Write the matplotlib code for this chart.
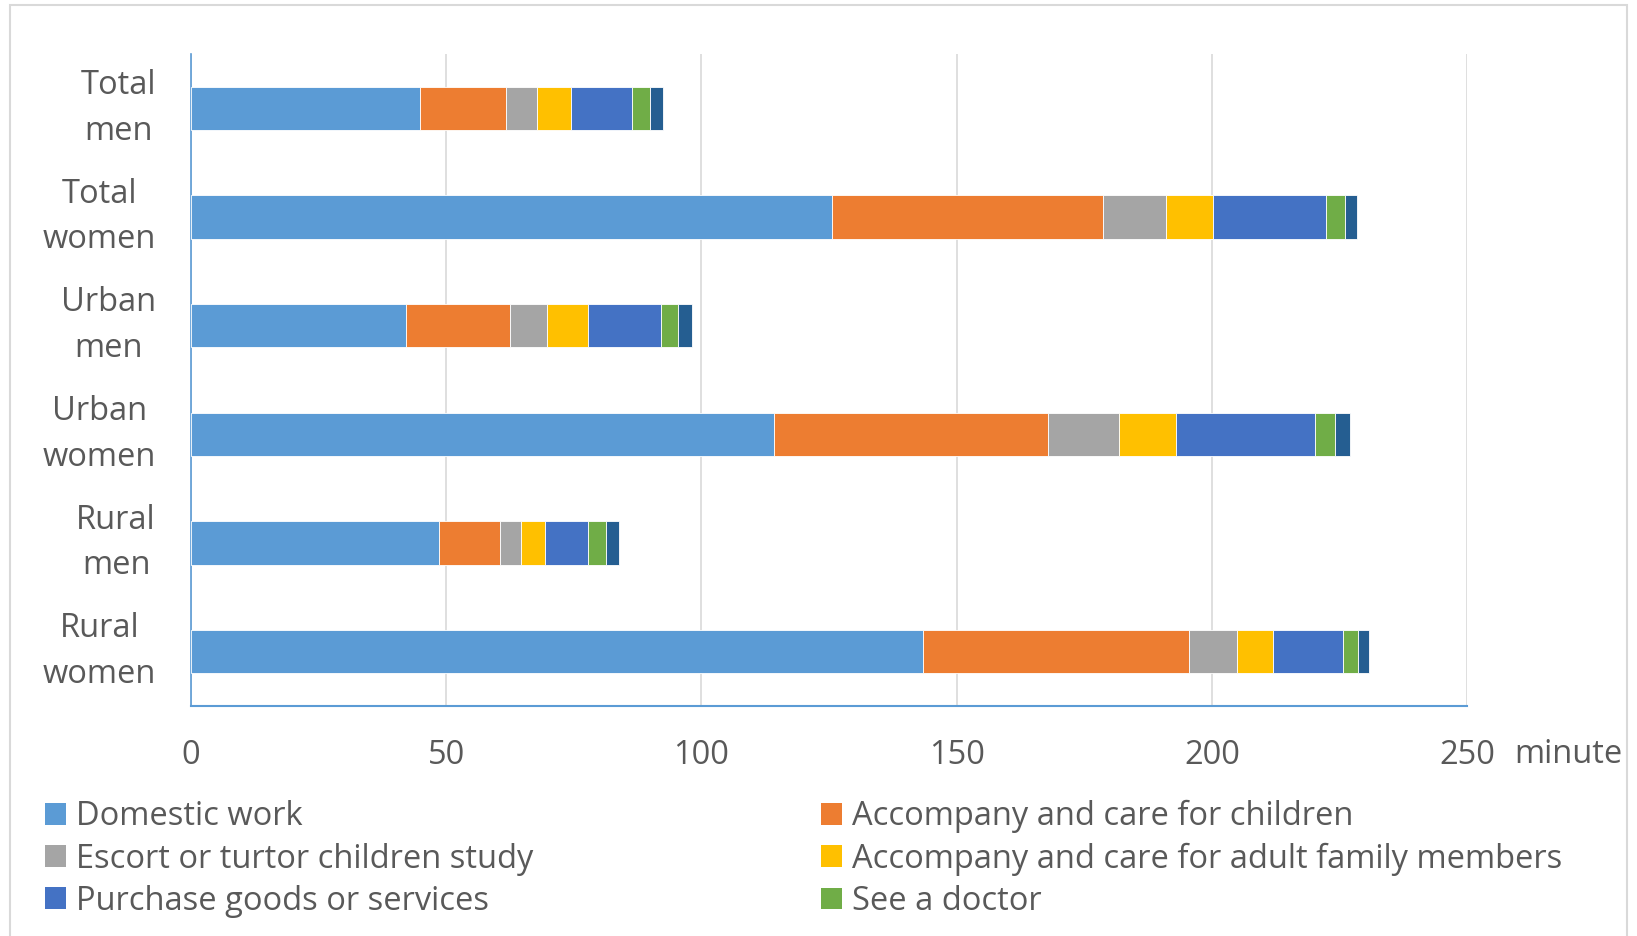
import matplotlib
matplotlib.use('Agg')
import matplotlib.pyplot as plt
import numpy as np
from matplotlib.patches import Rectangle, Patch

plt.rcParams['font.family'] = ['Open Sans', 'DejaVu Sans']

# Categories from top to bottom
groups = ['Total\nmen', 'Total\nwomen', 'Urban\nmen', 'Urban\nwomen', 'Rural\nmen', 'Rural\nwomen']

# Minutes per day for each activity
domestic_work = [44.8, 125.6, 42.2, 114.3, 48.6, 143.5]
care_children = [17.0, 53.0, 20.2, 53.5, 12.0, 52.1]
tutor_children = [5.9, 12.4, 7.3, 14.1, 4.0, 9.4]
care_adults = [6.8, 9.3, 8.0, 11.0, 4.8, 6.9]
purchase = [11.8, 22.0, 14.3, 27.4, 8.3, 13.7]
see_doctor = [3.6, 3.7, 3.5, 3.9, 3.6, 3.1]
other = [2.5, 2.5, 2.6, 2.8, 2.5, 2.1]

series = [
    ('Domestic work', domestic_work, '#5B9BD5'),
    ('Accompany and care for children', care_children, '#ED7D31'),
    ('Escort or turtor children study', tutor_children, '#A5A5A5'),
    ('Accompany and care for adult family members', care_adults, '#FFC000'),
    ('Purchase goods or services', purchase, '#4472C4'),
    ('See a doctor', see_doctor, '#70AD47'),
    ('Other', other, '#255E91'),
]

text_color = '#595959'
fs = 23.5

fig = plt.figure(figsize=(16.37, 9.36), dpi=100)
ax = fig.add_axes([0.1167, 0.2457, 0.7795, 0.6966])

y = np.arange(len(groups))
left = np.zeros(len(groups))
handles = []
for name, vals, color in series:
    ax.barh(y, vals, left=left, height=0.4, color=color,
            edgecolor='white', linewidth=0.6, zorder=3)
    left += np.array(vals)
    if name != 'Other':
        handles.append(Patch(facecolor=color, label=name))

ax.set_xlim(0, 250)
ax.set_ylim(len(groups) - 0.5, -0.5)
ax.set_xticks(np.arange(0, 251, 50))
ax.xaxis.grid(True, color='#D9D9D9', linewidth=1.2, zorder=0)
ax.set_axisbelow(True)

for s in ['top', 'right']:
    ax.spines[s].set_visible(False)
ax.spines['left'].set_color('#5B9BD5')
ax.spines['bottom'].set_color('#5B9BD5')
ax.spines['left'].set_linewidth(1.2)
ax.spines['bottom'].set_linewidth(1.5)

ax.tick_params(axis='x', length=0, pad=24, labelsize=fs, labelcolor=text_color)
ax.tick_params(axis='y', length=0, left=False, labelleft=False)

# y category labels, centred lines, right-aligned block
for yi, label in zip(y, groups):
    ax.text(-0.0275, yi, label, transform=ax.get_yaxis_transform(),
            ha='right', va='center', multialignment='center',
            fontsize=fs, color=text_color, linespacing=1.5)

fig.text(0.925, 0.194, 'minute', ha='left', va='center', fontsize=fs, color=text_color)

order = [0, 2, 4, 1, 3, 5]
fig.legend([handles[i] for i in order], [handles[i].get_label() for i in order],
           ncol=2, loc='upper left', bbox_to_anchor=(0.0195, 0.159),
           frameon=False, fontsize=fs, labelcolor=text_color,
           handlelength=0.65, handleheight=0.65, handletextpad=0.3,
           columnspacing=8.8, labelspacing=0.28, borderaxespad=0)

# light border around the chart area
fig.patches.append(Rectangle((0.0064, -0.01), 0.9875, 1.0047, transform=fig.transFigure,
                             fill=False, edgecolor='#D9D9D9', linewidth=1.5))

fig.savefig('out.png', dpi=100)
